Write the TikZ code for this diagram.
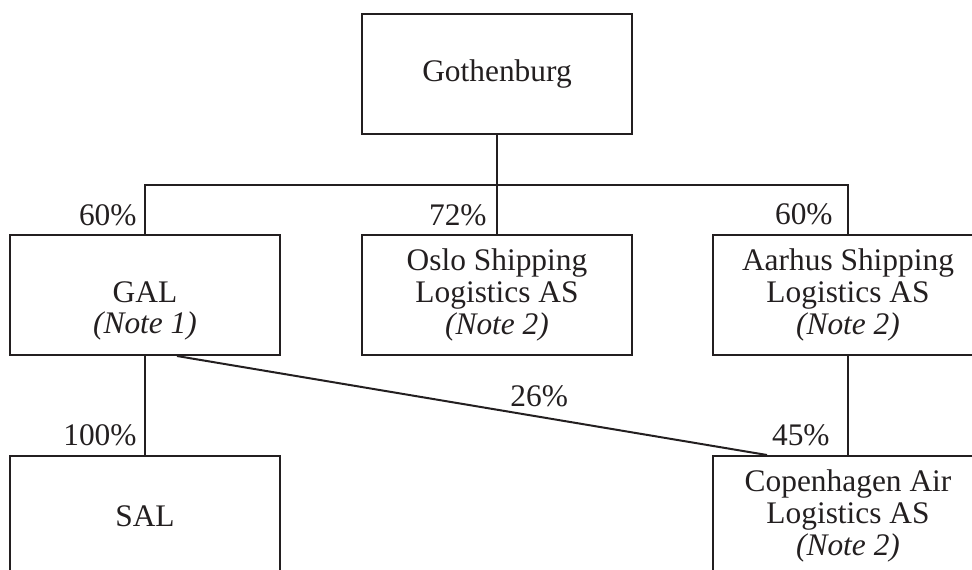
\documentclass[tikz,border=0pt]{standalone}
\usepackage{fontspec}
\setmainfont{Liberation Serif}
\usetikzlibrary{calc}
\definecolor{ink}{HTML}{231F20}
\begin{document}
\begin{tikzpicture}[x=0.5pt,y=-0.5pt,
  font=\fontsize{15.7}{15.9}\selectfont, color=ink,
  orgbox/.style={draw=ink, line width=1pt, minimum width=135pt, minimum height=60pt, inner sep=0pt, align=center, text=ink},
  conn/.style={draw=ink, line width=1pt},
  pct/.style={inner sep=0pt, anchor=base east, text=ink}]
\useasboundingbox (0,0) rectangle (972,569);
\clip (0,0) rectangle (972,569);
\node[orgbox] (goth) at (497,74) {Gothenburg};
\node[orgbox] (gal) at (145,295) {\vphantom{Ag}\\GAL\\\textit{(Note 1)}};
\node[orgbox] (oslo) at (497,295) {Oslo Shipping\\Logistics AS\\\textit{(Note 2)}};
\node[orgbox] (aarhus) at (848,295) {Aarhus Shipping\\Logistics AS\\\textit{(Note 2)}};
\node[orgbox] (sal) at (145,516) {SAL};
\node[orgbox] (cop) at (848,516) {Copenhagen Air\\Logistics AS\\\textit{(Note 2)}};
\coordinate (barL) at (145,185);
\coordinate (barR) at (848,185);
\draw[conn] (goth.south) -- (oslo.north);
\draw[conn] (gal.north) -- (barL) -- (barR) -- (aarhus.north);
\draw[conn] (gal.south) -- (sal.north);
\draw[conn] (aarhus.south) -- (cop.north);
\draw[conn] ($(gal.south)+(32,0)$) -- ($(cop.north)+(-81,0)$);
\node[pct] (p1) at (137,225) {60\%};
\node[pct] (p2) at (487,225) {72\%};
\node[pct] (p3) at (833,224) {60\%};
\node[pct] (p4) at (137,445) {100\%};
\node[pct] (p5) at (830,445) {45\%};
\node[pct, anchor=base west] (p6) at (510,406) {26\%};
\end{tikzpicture}
\end{document}
